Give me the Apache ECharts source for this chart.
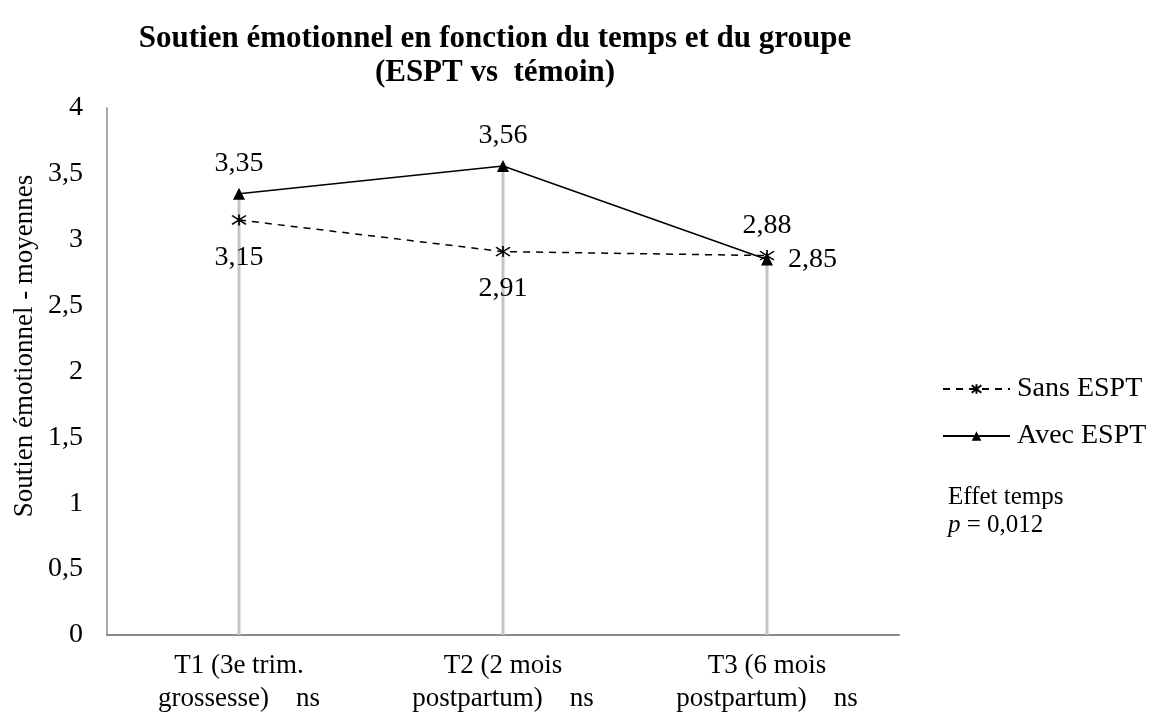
<!DOCTYPE html>
<html>
<head>
<meta charset="utf-8">
<script src="https://cdn.jsdelivr.net/npm/echarts@6/dist/echarts.min.js"></script>
<style>
    html, body { margin: 0; padding: 0; background: #fff; }
    #chart { width: 1159px; height: 722px; }
</style>
</head>
<body>
<div id="chart"></div>
<script>
    // données
    const categories = ['T1 (3e trim.\ngrossesse)    ns', 'T2 (2 mois\npostpartum)    ns', 'T3 (6 mois\npostpartum)    ns']
    const sansESPT = [3.15, 2.91, 2.88]
    const avecESPT = [3.35, 3.56, 2.85]
    const yTicks = [0, 0.5, 1, 1.5, 2, 2.5, 3, 3.5, 4]

    // position des étiquettes (style)
    const sansPos = ['bottom', 'bottom', 'top']
    const avecPos = ['top', 'top', 'right']

    const font = 'Liberation Serif'
    const fmt = v => String(v).replace('.', ',')

    // lignes verticales grises (du point le plus haut jusqu'à l'axe)
    const dropTop = categories.map((c, i) => Math.max(sansESPT[i], avecESPT[i]))

    const labelDist = { top: 10, bottom: 17, right: 15 }

    let myChart = echarts.init(document.getElementById('chart'))
    myChart.setOption({
        animation: false,
        textStyle: { fontFamily: font, color: '#000' },
        title: {
            text: 'Soutien émotionnel en fonction du temps et du groupe\n(ESPT vs  témoin)',
            left: 490,
            top: 17,
            textAlign: 'center',
            textStyle: { fontFamily: font, fontWeight: 'bold', fontSize: 31, lineHeight: 34, color: '#000' }
        },
        grid: { left: 107, right: 260, top: 108, bottom: 87 },
        legend: {
            orient: 'vertical',
            left: 937,
            top: 370,
            itemGap: 19,
            itemWidth: 67,
            itemHeight: 12,
            textStyle: { fontFamily: font, fontSize: 28, color: '#000', padding: [0, 0, 0, 2] },
            data: ['Sans ESPT', 'Avec ESPT']
        },
        graphic: [
            {
                // titre de l'axe vertical
                type: 'text',
                x: 25,
                y: 346,
                rotation: Math.PI / 2,
                style: {
                    text: 'Soutien émotionnel - moyennes',
                    fontFamily: font,
                    fontSize: 27,
                    fill: '#000',
                    align: 'center',
                    verticalAlign: 'middle'
                }
            },
            {
                type: 'text',
                left: 948,
                top: 483,
                style: {
                    text: 'Effet temps\n{i|p} = 0,012',
                    fontFamily: font,
                    fontSize: 25,
                    lineHeight: 28,
                    fill: '#000',
                    rich: { i: { fontFamily: font, fontStyle: 'italic', fontSize: 25 } }
                }
            }
        ],
        xAxis: {
            type: 'category',
            data: categories,
            boundaryGap: true,
            axisLine: { lineStyle: { color: '#8c8c8c', width: 2 } },
            axisTick: { show: true, length: 0 },
            axisLabel: { fontFamily: font, fontSize: 27, lineHeight: 33, color: '#000', margin: 14 }
        },
        yAxis: {
            type: 'value',
            min: 0,
            max: 4,
            interval: 0.5,
            axisLine: { show: true, lineStyle: { color: '#8c8c8c', width: 1.5 } },
            axisTick: { show: false },
            splitLine: { show: false },
            axisLabel: {
                fontFamily: font, fontSize: 28, color: '#000', margin: 24,
                formatter: v => yTicks.includes(v) ? fmt(v) : ''
            }
        },
        series: [
            {
                type: 'custom',
                silent: true,
                z: 1,
                data: dropTop.map((v, i) => [i, v]),
                renderItem: (params, api) => {
                    const top = api.coord([api.value(0), api.value(1)])
                    const bottom = api.coord([api.value(0), 0])
                    return {
                        type: 'line',
                        shape: { x1: top[0], y1: top[1], x2: bottom[0], y2: bottom[1] },
                        style: { stroke: '#c4c4c4', lineWidth: 3 }
                    }
                }
            },
            {
                name: 'Sans ESPT',
                type: 'line',
                z: 3,
                data: sansESPT.map((v, i) => ({
                    value: v,
                    label: { position: sansPos[i], distance: labelDist[sansPos[i]] }
                })),
                symbol: 'path://M0,-5L0,5M-7,-4L7,4M-7,4L7,-4',
                symbolSize: [14, 11],
                itemStyle: { color: '#000', borderColor: '#000', borderWidth: 1.5 },
                lineStyle: { color: '#000', width: 1.5, type: [7, 6] },
                label: {
                    show: true,
                    fontFamily: font,
                    fontSize: 28,
                    color: '#000',
                    formatter: p => fmt(p.value)
                }
            },
            {
                name: 'Avec ESPT',
                type: 'line',
                z: 4,
                data: avecESPT.map((v, i) => ({
                    value: v,
                    label: { position: avecPos[i], distance: labelDist[avecPos[i]] }
                })),
                symbol: 'triangle',
                symbolSize: [12, 12],
                itemStyle: { color: '#000' },
                lineStyle: { color: '#000', width: 1.5 },
                label: {
                    show: true,
                    fontFamily: font,
                    fontSize: 28,
                    color: '#000',
                    formatter: p => fmt(p.value)
                }
            }
        ]
    })
</script>
</body>
</html>
